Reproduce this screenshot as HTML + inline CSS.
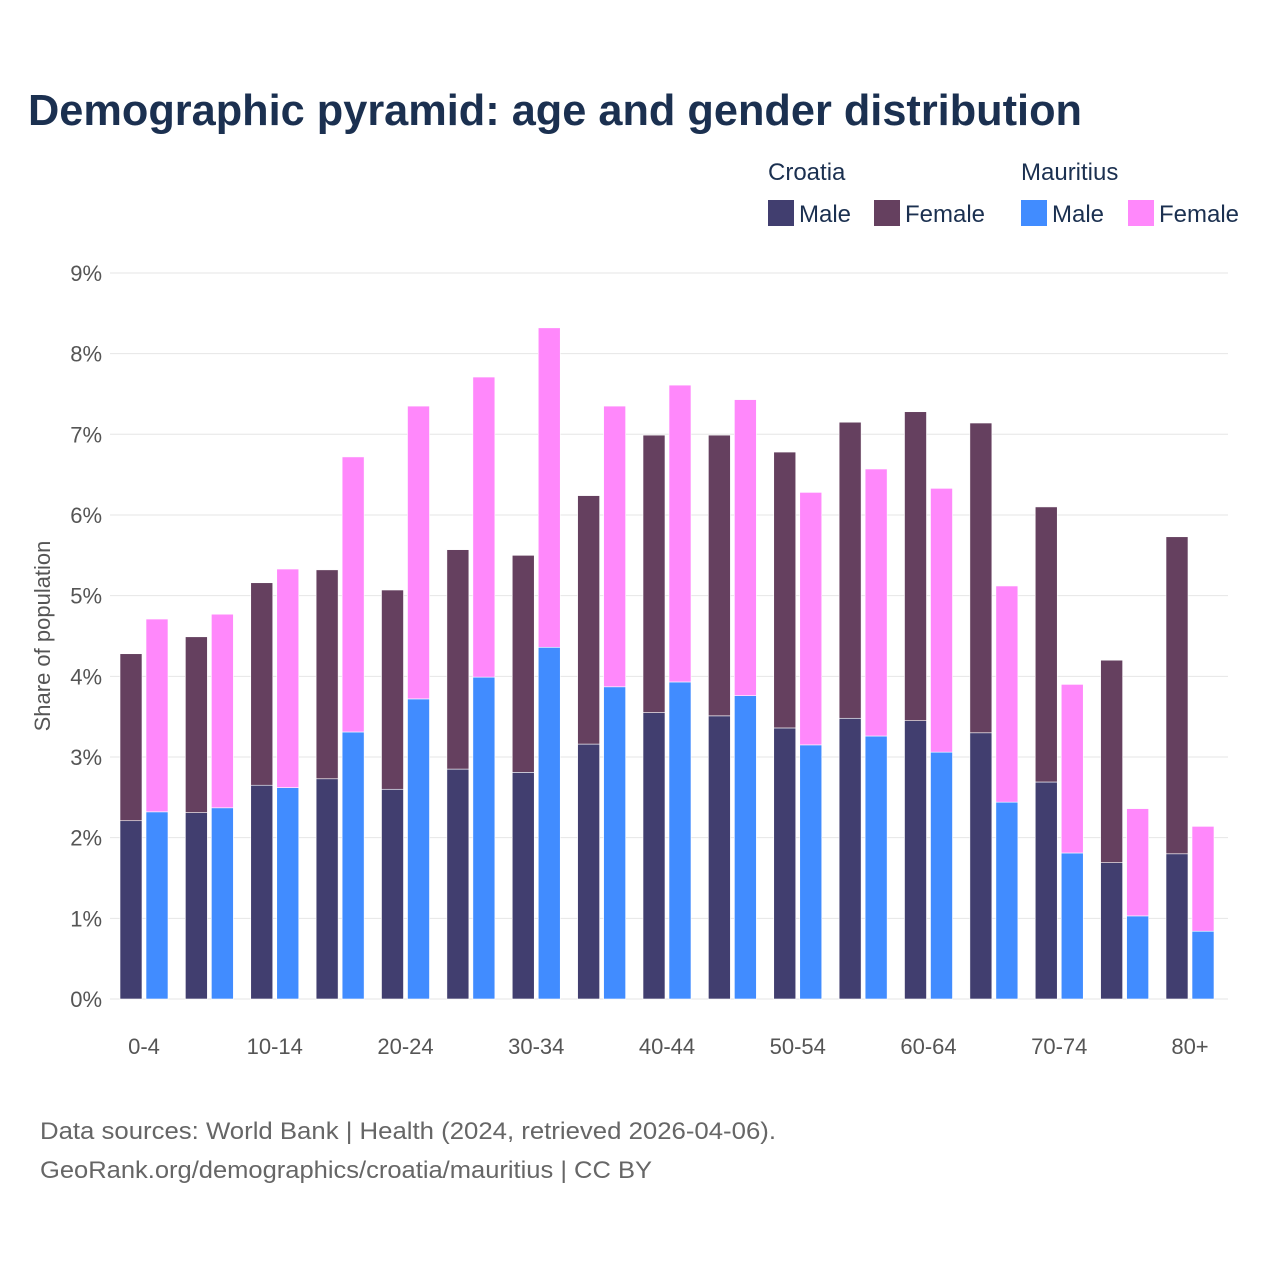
<!DOCTYPE html>
<html><head><meta charset="utf-8"><style>
body{margin:0;background:#fff;}
svg{display:block;font-family:"Liberation Sans",sans-serif;}
</style></head><body>
<svg id="c" width="1280" height="1280" viewBox="0 0 1280 1280">
<rect width="1280" height="1280" fill="#fff"/>
<text x="28" y="125" font-size="44" font-weight="bold" fill="#1b3050" textLength="1054" lengthAdjust="spacingAndGlyphs">Demographic pyramid: age and gender distribution</text>
<g font-size="24" fill="#1b3050">
<text x="768" y="180">Croatia</text>
<text x="1021" y="180">Mauritius</text>
<rect x="768" y="200" width="26" height="26" fill="#413e6f"/>
<text x="799" y="222">Male</text>
<rect x="874" y="200" width="26" height="26" fill="#65405f"/>
<text x="905" y="222">Female</text>
<rect x="1021" y="200" width="26" height="26" fill="#418cff"/>
<text x="1052" y="222">Male</text>
<rect x="1128" y="200" width="26" height="26" fill="#ff88fb"/>
<text x="1159" y="222">Female</text>
</g>
<text transform="translate(50,636) rotate(-90)" text-anchor="middle" font-size="22" fill="#555">Share of population</text>
<g id="grid"></g><g id="bars"></g><g id="xl"></g>
<text x="40" y="1139" font-size="24" fill="#666" textLength="736" lengthAdjust="spacingAndGlyphs">Data sources: World Bank | Health (2024, retrieved 2026-04-06).</text>
<text x="40" y="1178" font-size="24" fill="#666" textLength="612" lengthAdjust="spacingAndGlyphs">GeoRank.org/demographics/croatia/mauritius | CC BY</text>
</svg>
<script>
const categories=["0-4","5-9","10-14","15-19","20-24","25-29","30-34","35-39","40-44","45-49","50-54","55-59","60-64","65-69","70-74","75-79","80+"];
const croatiaMale=[2.21,2.31,2.65,2.73,2.60,2.85,2.81,3.16,3.55,3.51,3.36,3.48,3.45,3.30,2.69,1.69,1.80];
const croatiaFemale=[2.07,2.18,2.51,2.59,2.47,2.72,2.69,3.08,3.44,3.48,3.42,3.67,3.83,3.84,3.41,2.51,3.93];
const mauritiusMale=[2.32,2.37,2.62,3.31,3.72,3.99,4.36,3.87,3.93,3.76,3.15,3.26,3.06,2.44,1.81,1.03,0.84];
const mauritiusFemale=[2.39,2.40,2.71,3.41,3.63,3.72,3.96,3.48,3.68,3.67,3.13,3.31,3.27,2.68,2.09,1.33,1.30];
const yTicks=[0,1,2,3,4,5,6,7,8,9];
const NS="http://www.w3.org/2000/svg";
const y=v=>999-v*80.67;
const xc=i=>144+i*65.375;
function mk(t,a,p){const e=document.createElementNS(NS,t);for(const k in a)e.setAttribute(k,a[k]);p.appendChild(e);return e;}
const grid=document.getElementById('grid'),bars=document.getElementById('bars'),xl=document.getElementById('xl');
yTicks.forEach(t=>{
  const l=mk('line',{x1:110,x2:1228,y1:y(t),y2:y(t),stroke:'#e6e6e6','stroke-width':1},grid);
  
  
  const tx=mk('text',{x:102,y:y(t)+8,'text-anchor':'end','font-size':22,fill:'#555'},grid);
  tx.textContent=t+'%';
  
  
});
function bar(x,v0,v1,col,name){
  const r=mk('rect',{x:x,y:y(v1),width:22,height:y(v0)-y(v1),fill:col,stroke:'#fff','stroke-width':0.6},bars);
  
  
}
categories.forEach((c,i)=>{
  const cx=xc(i);
  bar(cx-24,0,croatiaMale[i],'#413e6f','bar-croatia-male');
  bar(cx-24,croatiaMale[i],croatiaMale[i]+croatiaFemale[i],'#65405f','bar-croatia-female');
  bar(cx+2,0,mauritiusMale[i],'#418cff','bar-mauritius-male');
  bar(cx+2,mauritiusMale[i],mauritiusMale[i]+mauritiusFemale[i],'#ff88fb','bar-mauritius-female');
  if(i%2===0){
    const t=mk('text',{x:cx,y:1054,'text-anchor':'middle','font-size':22,fill:'#555'},xl);
    t.textContent=c;
    
    
  }
});
</script>
</body></html>
